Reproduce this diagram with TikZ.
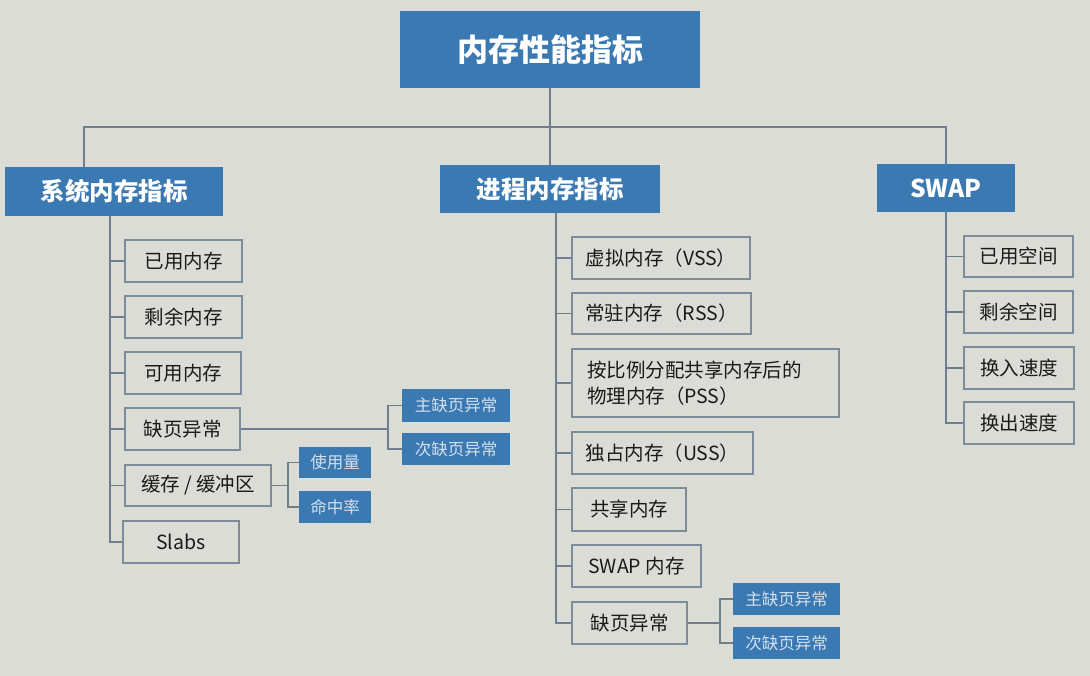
\documentclass[tikz,border=0pt]{standalone}
\usepackage{fontspec}
\setmainfont{Noto Sans CJK SC}
\definecolor{bg}{HTML}{DCDCD7}
\definecolor{myblue}{HTML}{3B79B3}
\definecolor{boxgray}{HTML}{7D8C99}
\definecolor{linegray}{HTML}{6E7E8C}
\definecolor{txt}{HTML}{1A1A1A}
\definecolor{lighttxt}{HTML}{D2E0EE}
\tikzset{
  rootbox/.style={fill=myblue, draw=none, text=white, inner sep=0pt,
    font=\fontsize{31}{36}\selectfont\bfseries},
  catbox/.style={fill=myblue, draw=none, text=white, inner sep=0pt,
    font=\fontsize{24.5}{29}\selectfont\bfseries},
  itembox/.style={draw=boxgray, line width=1.6pt, text=txt, inner sep=0pt,
    font=\fontsize{19.5}{26}\selectfont},
  smallbox/.style={fill=myblue, draw=none, text=lighttxt, inner sep=0pt,
    font=\fontsize{16.5}{20}\selectfont},
  conn/.style={draw=linegray, line width=1.7pt},
}
\begin{document}
\begin{tikzpicture}[x=1pt,y=-1pt]
\path[fill=bg] (0,0) rectangle (1090,676);
% top levels
\node[rootbox, minimum width=300pt, minimum height=77pt] (root) at (550,49.5) {内存性能指标};
\node[catbox, minimum width=218pt, minimum height=49pt] (sys) at (114,191.5) {系统内存指标};
\node[catbox, minimum width=220pt, minimum height=48pt] (proc) at (550,189) {进程内存指标};
\node[catbox, minimum width=138pt, minimum height=48pt] (swap) at (946,188) {SWAP};
% system items
\node[itembox, minimum width=117pt, minimum height=42pt] (a1) at (183.5,261) {已用内存};
\node[itembox, minimum width=117pt, minimum height=42pt] (a2) at (183.5,317) {剩余内存};
\node[itembox, minimum width=116pt, minimum height=42pt] (a3) at (183,373) {可用内存};
\node[itembox, minimum width=115pt, minimum height=42pt] (a4) at (182.5,429) {缺页异常};
\node[itembox, minimum width=146pt, minimum height=41pt] (a5) at (198,485.5) {缓存 / 缓冲区};
\node[itembox, minimum width=116pt, minimum height=42pt] (a6) at (181,542) {Slabs};
\node[smallbox, minimum width=108pt, minimum height=33pt] (a4a) at (456,405.5) {主缺页异常};
\node[smallbox, minimum width=108pt, minimum height=32pt] (a4b) at (456,449) {次缺页异常};
\node[smallbox, minimum width=72pt, minimum height=31pt] (a5a) at (335,462.5) {使用量};
\node[smallbox, minimum width=72pt, minimum height=32pt] (a5b) at (335,507) {命中率};
% process items
\node[itembox, minimum width=178pt, minimum height=42pt] (b1) at (661,258) {虚拟内存（VSS）};
\node[itembox, minimum width=179pt, minimum height=41pt] (b2) at (661.5,313.5) {常驻内存（RSS）};
\node[itembox, minimum width=267pt, minimum height=68pt, align=left, text width=237pt] (b3) at (705.5,383) {按比例分配共享内存后的\\物理内存（PSS）};
\node[itembox, minimum width=181pt, minimum height=42pt] (b4) at (662.5,453) {独占内存（USS）};
\node[itembox, minimum width=114pt, minimum height=43pt] (b5) at (629,509.5) {共享内存};
\node[itembox, minimum width=129pt, minimum height=42pt] (b6) at (636.5,566) {SWAP 内存};
\node[itembox, minimum width=115pt, minimum height=42pt] (b7) at (629.5,623) {缺页异常};
\node[smallbox, minimum width=107pt, minimum height=32pt] (b7a) at (786.5,599) {主缺页异常};
\node[smallbox, minimum width=107pt, minimum height=32pt] (b7b) at (786.5,643) {次缺页异常};
% swap items
\node[itembox, minimum width=109pt, minimum height=41pt] (c1) at (1018.5,256.5) {已用空间};
\node[itembox, minimum width=109pt, minimum height=42pt] (c2) at (1018.5,312) {剩余空间};
\node[itembox, minimum width=110pt, minimum height=42pt] (c3) at (1019,368) {换入速度};
\node[itembox, minimum width=110pt, minimum height=42pt] (c4) at (1019,423) {换出速度};
% helper coordinates
\coordinate (sysup) at (84,167);
\coordinate (bus) at (550,127);
\coordinate (st) at (110,216);
\coordinate (pt) at (556,213);
\coordinate (j4) at (388,0);
\coordinate (j5) at (288,0);
\coordinate (j7) at (720,0);
% top connectors
\draw[conn] (root.south) -- (proc.north);
\draw[conn] (sysup) |- (bus) -| (swap.north);
% system tree
\draw[conn] (st) |- (a6.west);
\draw[conn] (st |- a1.west) -- (a1.west);
\draw[conn] (st |- a2.west) -- (a2.west);
\draw[conn] (st |- a3.west) -- (a3.west);
\draw[conn] (st |- a4.west) -- (a4.west);
\draw[conn] (st |- a5.west) -- (a5.west);
\draw[conn] (a4.east) -- (j4 |- a4.east);
\draw[conn] (a4a.west) -| (j4 |- a4b.west) -- (a4b.west);
\draw[conn] (a5.east) -- (j5 |- a5.east);
\draw[conn] (a5a.west) -| (j5 |- a5b.west) -- (a5b.west);
% process tree
\draw[conn] (pt) |- (b7.west);
\draw[conn] (pt |- b1.west) -- (b1.west);
\draw[conn] (pt |- b2.west) -- (b2.west);
\draw[conn] (pt |- b3.west) -- (b3.west);
\draw[conn] (pt |- b4.west) -- (b4.west);
\draw[conn] (pt |- b5.west) -- (b5.west);
\draw[conn] (pt |- b6.west) -- (b6.west);
\draw[conn] (b7.east) -- (j7 |- b7.east);
\draw[conn] (b7a.west) -| (j7 |- b7b.west) -- (b7b.west);
% swap tree
\draw[conn] (swap.south) |- (c4.west);
\draw[conn] (swap.south |- c1.west) -- (c1.west);
\draw[conn] (swap.south |- c2.west) -- (c2.west);
\draw[conn] (swap.south |- c3.west) -- (c3.west);
\end{tikzpicture}
\end{document}
